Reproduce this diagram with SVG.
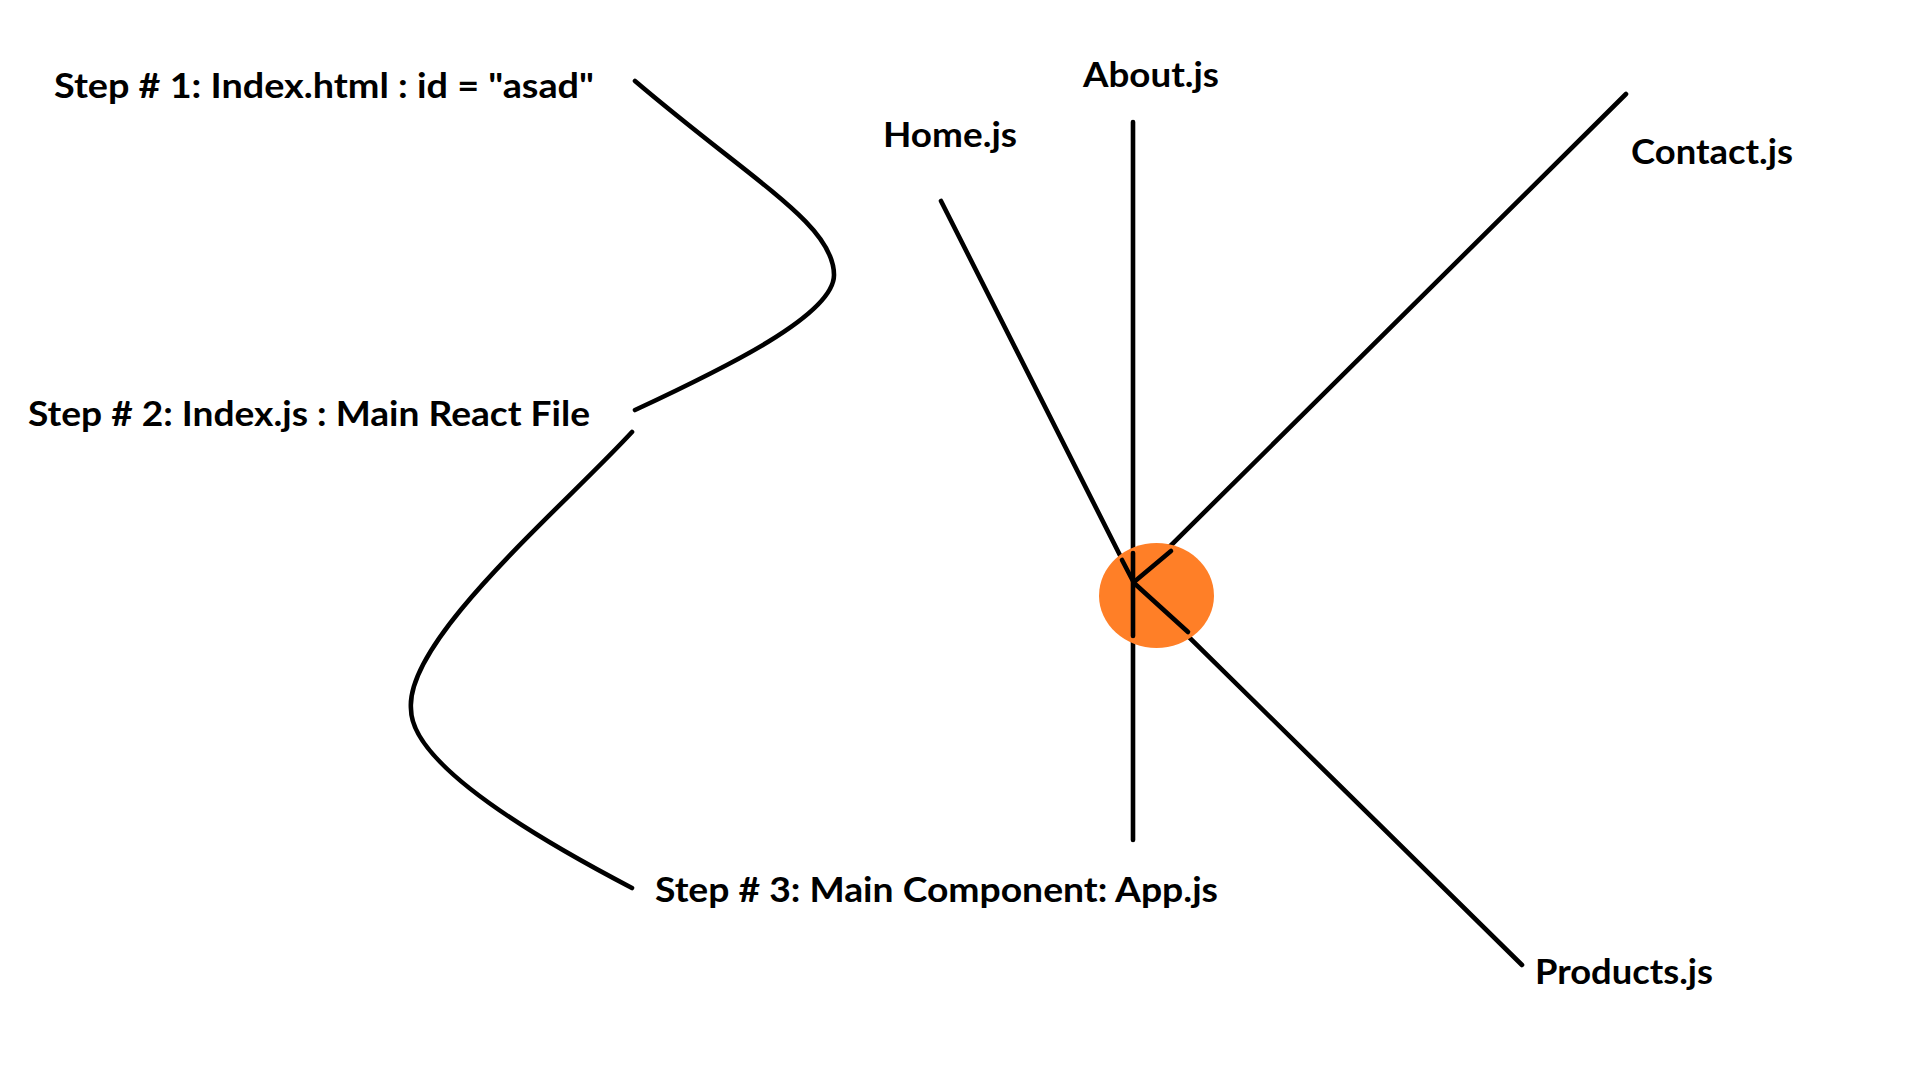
<svg xmlns="http://www.w3.org/2000/svg" width="1924" height="1080" viewBox="0 0 1924 1080">
  <style>
    .lbl { font-family: Lato, "Open Sans", "Liberation Sans", sans-serif; font-weight: bold; font-size: 34px; fill: #000; }
    .ln { fill: none; stroke: #000; stroke-width: 4.6; stroke-linecap: round; stroke-linejoin: round; }
    .hub { fill: #FF7F27; stroke: none; }
  </style>
  <rect width="1924" height="1080" fill="#fff"/>

  <g id="connectors">
    <path id="c-step1-step2" class="ln" d="M635,81 C755,183 834,225 834,275 C834,315 725,368 635,410"/>
    <path id="c-step2-step3" class="ln" d="M632,432 C560,510 405,640 411,709 C411,765 540,840 632,888"/>
    <line id="c-home" class="ln" x1="941" y1="201" x2="1134" y2="583"/>
    <line id="c-about" class="ln" x1="1133" y1="122" x2="1133" y2="840"/>
    <line id="c-contact" class="ln" x1="1626" y1="94" x2="1134" y2="582"/>
    <line id="c-products" class="ln" x1="1134" y1="583" x2="1522" y2="965"/>
  </g>

  <g id="node-app-hub">
    <ellipse class="hub" cx="1156.5" cy="595.5" rx="57.5" ry="52.5"/>
    <line class="ln" x1="1133" y1="553" x2="1133" y2="636"/>
    <line class="ln" x1="1122" y1="560" x2="1134" y2="583"/>
    <line class="ln" x1="1171" y1="551" x2="1134" y2="582"/>
    <line class="ln" x1="1134" y1="583" x2="1188" y2="632"/>
  </g>

  <g id="node-step1">
    <text class="lbl" x="54" y="98" textLength="540" lengthAdjust="spacingAndGlyphs">Step # 1: Index.html : id = "asad"</text>
  </g>
  <g id="node-step2">
    <text class="lbl" x="28" y="426" textLength="562" lengthAdjust="spacingAndGlyphs">Step # 2: Index.js : Main React File</text>
  </g>
  <g id="node-step3">
    <text class="lbl" x="655" y="902" textLength="563" lengthAdjust="spacingAndGlyphs">Step # 3: Main Component: App.js</text>
  </g>
  <g id="node-home">
    <text class="lbl" x="883" y="147" textLength="134" lengthAdjust="spacingAndGlyphs">Home.js</text>
  </g>
  <g id="node-about">
    <text class="lbl" x="1083" y="87" textLength="136" lengthAdjust="spacingAndGlyphs">About.js</text>
  </g>
  <g id="node-contact">
    <text class="lbl" x="1631" y="164" textLength="162" lengthAdjust="spacingAndGlyphs">Contact.js</text>
  </g>
  <g id="node-products">
    <text class="lbl" x="1535" y="984" textLength="178" lengthAdjust="spacingAndGlyphs">Products.js</text>
  </g>
</svg>
